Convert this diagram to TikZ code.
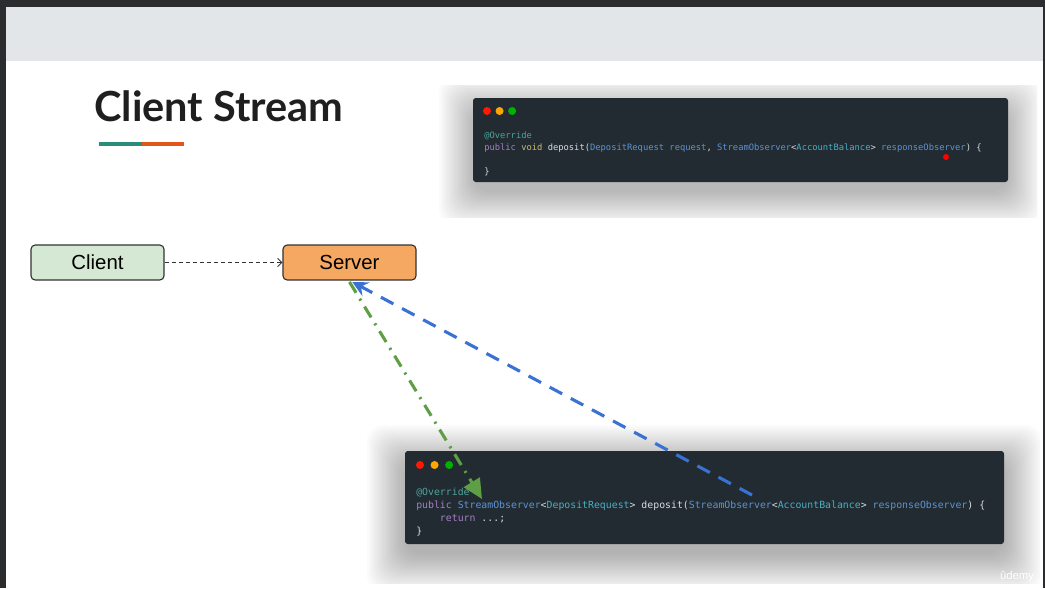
\documentclass[tikz,border=0pt]{standalone}
\usepackage{fontspec}
\setmainfont{Liberation Sans}
\setmonofont{DejaVu Sans Mono}
\newfontfamily\titlefont{Lato}
\usetikzlibrary{arrows.meta,positioning}
\definecolor{frame}{HTML}{2B2C2E}
\definecolor{header}{HTML}{E3E6E9}
\definecolor{codebg}{HTML}{212B31}
\definecolor{cteal}{HTML}{4FA39B}
\definecolor{cpurple}{HTML}{A77FC4}
\definecolor{cyellow}{HTML}{CDBE6C}
\definecolor{cblue}{HTML}{5E93D2}
\definecolor{ccyan}{HTML}{4BAFC4}
\definecolor{cwhite}{HTML}{DADDE0}
\definecolor{clientfill}{HTML}{D5E8D4}
\definecolor{serverfill}{HTML}{F4A862}
\definecolor{ulteal}{HTML}{2A8C7C}
\definecolor{ulorange}{HTML}{E0561C}
\definecolor{arrgreen}{HTML}{5E9E45}
\definecolor{arrblue}{HTML}{3A72D4}
\newcommand{\ckw}[1]{\textcolor{cpurple}{#1}}
\newcommand{\cty}[1]{\textcolor{cblue}{#1}}
\newcommand{\ccy}[1]{\textcolor{ccyan}{#1}}

\begin{document}
\begin{tikzpicture}[x=0.025cm,y=-0.025cm,
  box/.style={draw=black!80,line width=0.8pt,rounded corners=3pt,minimum width=3.325cm,minimum height=0.875cm,font=\fontsize{14.5}{16}\selectfont},
  codeline/.style={anchor=west,inner sep=0pt,text=cwhite},
  dot/.style={circle,inner sep=0pt,minimum size=0.2cm},
  softshade/.style={black,opacity=0.016,rounded corners=12pt}]
  % frame and slide
  \fill[frame] (0,0) rectangle (1045,588);
  \fill[white] (6,7) rectangle (1043,588);
  \fill[header] (6,7) rectangle (1043,61);
  % title
  \node[anchor=base west,inner sep=0pt,font=\titlefont\bfseries\fontsize{29.5}{31}\selectfont,text=black!88] (title) at (94,121) {Client Stream};
  \fill[ulteal] (99,142) rectangle (142,146);
  \fill[ulorange] (142,142) rectangle (184,146);
  % shadows, clipped to the screenshots
  \begin{scope}
    \clip (438,85) rectangle (1037,217);
    \foreach \s in {0,2,...,34}
      \fill[softshade] (473-\s,98+12-\s) rectangle (1008+\s,182+10+\s);
  \end{scope}
  \begin{scope}
    \clip (365,425) rectangle (1040,583);
    \foreach \s in {0,2,...,38}
      \fill[softshade] (405-\s,451+12-\s) rectangle (1004+\s,544+10+\s);
  \end{scope}
  % code panel 1
  \fill[codebg,rounded corners=2pt] (473,98) rectangle (1008,182);
  \node[dot,fill=red!80!orange] (r1) at (487,111) {};
  \node[dot,fill=orange!70!yellow,right=0.1cm of r1] (y1) {};
  \node[dot,fill=green!70!black,right=0.1cm of y1] (g1) {};
  \begin{scope}[font=\ttfamily\fontsize{6.25}{7}\selectfont]
    \node[codeline,text=cteal] (o1) at (484,136) {@Override};
    \node[codeline] (m1) at (484,148) {\ckw{public} \textcolor{cyellow}{void} deposit(\cty{DepositRequest request}, \cty{StreamObserver}<\ccy{AccountBalance}> \cty{responseObserver}) \{};
    \node[codeline] (e1) at (484,172) {\}};
  \end{scope}
  \node[circle,fill=red,inner sep=0pt,minimum size=0.15cm] (mark) at (946,157) {};
  % code panel 2
  \fill[codebg,rounded corners=2pt] (405,451) rectangle (1004,544);
  \node[dot,fill=red!80!orange] (r2) at (420,465) {};
  \node[dot,fill=orange!70!yellow,right=0.15cm of r2] (y2) {};
  \node[dot,fill=green!70!black,right=0.15cm of y2] (g2) {};
  \begin{scope}[font=\ttfamily\fontsize{7}{8}\selectfont]
    \node[codeline,text=cteal] (o2) at (416,493) {@Override};
    \node[codeline] (m2) at (416,506) {\ckw{public} \cty{StreamObserver}<\ccy{DepositRequest}> deposit(\cty{StreamObserver}<\ccy{AccountBalance}> \cty{responseObserver}) \{};
    \node[codeline] (r2l) at (416,519) {\hphantom{0000}\ckw{return} ...;};
    \node[codeline] (e2) at (416,532) {\}};
  \end{scope}
  % nodes
  \node[box,fill=clientfill] (Client) at (97.5,262.5) {Client};
  \node[box,fill=serverfill] (Server) at (349.5,262.5) {Server};
  \draw[black!80,line width=0.6pt,dash pattern=on 3pt off 2pt,-{Straight Barb[length=3pt,width=6pt]}] (Client) -- (Server);
  % arrows into the code
  \coordinate (greenend) at (482,499);
  \coordinate (bluestart) at (752,495);
  \draw[arrgreen,line width=2.2pt,dash pattern=on 9pt off 5pt on 1.5pt off 5pt,-{Triangle[length=14pt,width=13pt]}] ([yshift=-1pt]Server.south) -- (greenend);
  \draw[arrblue,line width=2.2pt,dash pattern=on 10pt off 7pt,-{Stealth[length=11pt,width=11pt,inset=4pt]}] (bluestart) -- ([xshift=2pt,yshift=-1pt]Server.south);
  % watermark
  \node[text=white,font=\fontsize{8}{9}\selectfont] (udemy) at (1017,577) {ûdemy};
\end{tikzpicture}
\end{document}
